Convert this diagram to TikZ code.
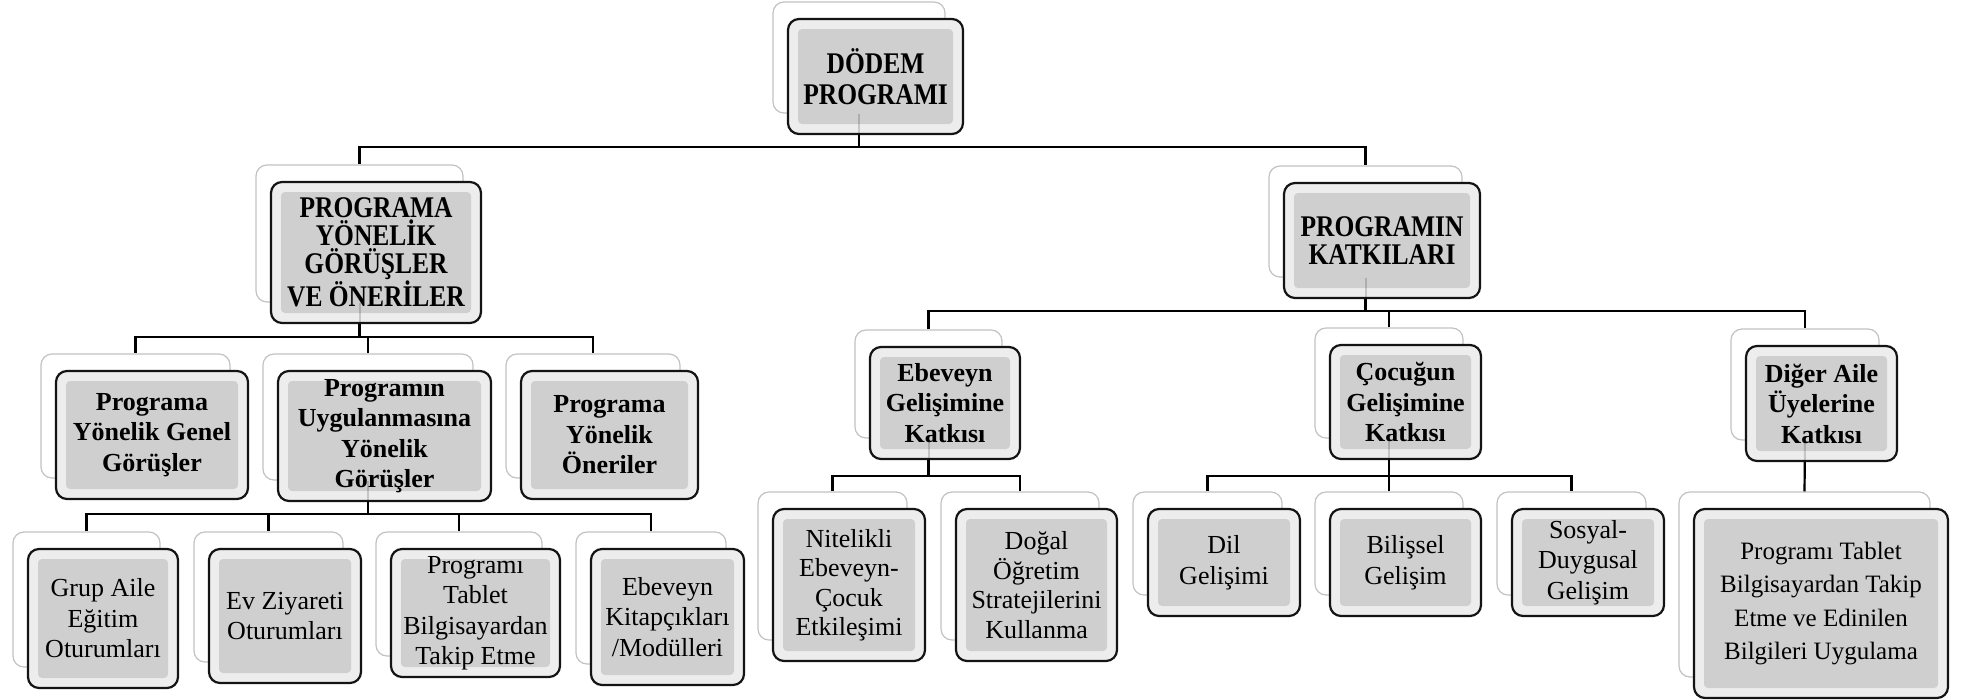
\documentclass[tikz,border=0pt]{standalone}
\usepackage{fontspec}
\setmainfont{Liberation Serif}
\newfontfamily\condserif{Liberation Serif}[FakeStretch=0.85]
\newcommand\mkback[5]{\node[backbox, minimum width={#4-#2}, minimum height={#5-#3}] (#1-b) at ({(#2+#4)/2},{(#3+#5)/2}) {};}
\newcommand\mkfront[7]{\node[frontbox, #6, minimum width={#4-#2+3}, minimum height={#5-#3+4}] (#1) at ({(#2+#4)/2+16.5},{(#3+#5)/2+19}) {#7};}
\begin{document}
\begin{tikzpicture}[x=1pt,y=-1pt,
  backbox/.style={draw=black!24, line width=1.2pt, fill=white, rounded corners=11pt, inner sep=0pt},
  frontbox/.style={draw=black!92, line width=2.2pt, fill=black!7, rounded corners=11pt, inner sep=0pt, align=center, text=black,
    path picture={\fill[black!19, rounded corners=4pt] ([shift={(10pt,10pt)}]path picture bounding box.south west) rectangle ([shift={(-10pt,-10pt)}]path picture bounding box.north east);}},
  conn/.style={draw=black, line width=2.2pt},
  faint/.style={draw=black, line width=2pt, draw opacity=0.16},
  lzero/.style={font={\condserif\bfseries\fontsize{30}{30.5}\selectfont}},
  lone/.style={font={\condserif\bfseries\fontsize{30}{28}\selectfont}},
  ltwo/.style={font={\bfseries\fontsize{26}{30.5}\selectfont}},
  lthree/.style={font={\fontsize{26}{30.5}\selectfont}},
  lthreeb/.style={font={\fontsize{26}{29.5}\selectfont}},
  lbig/.style={font={\fontsize{25}{33.5}\selectfont}}
]
\useasboundingbox (0,0) rectangle (1964,699);
% back boxes
\mkback{A}{773}{2}{945}{113}
\mkback{B}{256}{165}{463}{302}
\mkback{C}{1269}{166}{1462}{277}
\mkback{D1}{41}{354}{230}{478}
\mkback{D2}{263}{354}{473}{480}
\mkback{D3}{506}{354}{680}{478}
\mkback{E1}{13}{532}{160}{667}
\mkback{E2}{194}{532}{343}{662}
\mkback{E3}{376}{532}{542}{656}
\mkback{E4}{576}{532}{726}{664}
\mkback{F1}{855}{330}{1002}{438}
\mkback{F2}{1315}{328}{1463}{438}
\mkback{F3}{1731}{329}{1879}{440}
\mkback{G1}{758}{492}{907}{640}
\mkback{G2}{941}{492}{1099}{640}
\mkback{G3}{1133}{492}{1282}{595}
\mkback{G4}{1315}{492}{1463}{595}
\mkback{G5}{1497}{492}{1646}{595}
\mkback{H}{1679}{492}{1930}{677}
% bus levels
\coordinate (bus0) at (0,147);
\coordinate (bus1) at (0,337);
\coordinate (bus2) at (0,514);
\coordinate (bus3) at (0,311);
\coordinate (bus4) at (0,476);
% connectors
\draw[conn] (A-b.south) -- (A-b.south |- bus0) -| (B-b.north);
\draw[conn] (A-b.south |- bus0) -| (C-b.north);
\draw[conn] (B-b.south) -- (B-b.south |- bus1) -| (D1-b.north);
\draw[conn] (B-b.south |- bus1) -| (D2-b.north);
\draw[conn] (B-b.south |- bus1) -| (D3-b.north);
\draw[conn] (D2-b.south) -- (D2-b.south |- bus2) -| (E1-b.north);
\draw[conn] (D2-b.south |- bus2) -| (E2-b.north);
\draw[conn] (D2-b.south |- bus2) -| (E3-b.north);
\draw[conn] (D2-b.south |- bus2) -| (E4-b.north);
\draw[conn] (C-b.south) -- (C-b.south |- bus3) -| (F1-b.north);
\draw[conn] (C-b.south |- bus3) -| (F2-b.north);
\draw[conn] (C-b.south |- bus3) -| (F3-b.north);
\draw[conn] (F1-b.south) -- (F1-b.south |- bus4) -| (G1-b.north);
\draw[conn] (F1-b.south |- bus4) -| (G2-b.north);
\draw[conn] (F2-b.south) -- (F2-b.south |- bus4) -| (G3-b.north);
\draw[conn] (F2-b.south |- bus4) -| (G4-b.north);
\draw[conn] (F2-b.south |- bus4) -| (G5-b.north);
\draw[conn] (F3-b.south) -- (H-b.north);
% front boxes
\mkfront{A}{773}{2}{945}{113}{lzero}{DÖDEM\\PROGRAMI}
\mkfront{B}{256}{165}{463}{302}{lone}{PROGRAMA\\YÖNELİK\\GÖRÜŞLER\\VE ÖNERİLER}
\mkfront{C}{1269}{166}{1462}{277}{lone}{PROGRAMIN\\KATKILARI}
\mkfront{D1}{41}{354}{230}{478}{ltwo}{Programa\\Yönelik Genel\\Görüşler}
\mkfront{D2}{263}{354}{473}{480}{ltwo}{Programın\\Uygulanmasına\\Yönelik\\Görüşler}
\mkfront{D3}{506}{354}{680}{478}{ltwo}{Programa\\Yönelik\\Öneriler}
\mkfront{E1}{13}{532}{160}{667}{lthree}{Grup Aile\\Eğitim\\Oturumları}
\mkfront{E2}{194}{532}{343}{662}{lthree}{Ev Ziyareti\\Oturumları}
\mkfront{E3}{376}{532}{542}{656}{lthree}{Programı\\Tablet\\Bilgisayardan\\Takip Etme}
\mkfront{E4}{576}{532}{726}{664}{lthree}{Ebeveyn\\Kitapçıkları\\/Modülleri}
\mkfront{F1}{855}{330}{1002}{438}{ltwo}{Ebeveyn\\Gelişimine\\Katkısı}
\mkfront{F2}{1315}{328}{1463}{438}{ltwo}{Çocuğun\\Gelişimine\\Katkısı}
\mkfront{F3}{1731}{329}{1879}{440}{ltwo}{Diğer Aile\\Üyelerine\\Katkısı}
\mkfront{G1}{758}{492}{907}{640}{lthreeb}{Nitelikli\\Ebeveyn-\\Çocuk\\Etkileşimi}
\mkfront{G2}{941}{492}{1099}{640}{lthreeb}{Doğal\\Öğretim\\Stratejilerini\\Kullanma}
\mkfront{G3}{1133}{492}{1282}{595}{lthree}{Dil\\Gelişimi}
\mkfront{G4}{1315}{492}{1463}{595}{lthree}{Bilişsel\\Gelişim}
\mkfront{G5}{1497}{492}{1646}{595}{lthree}{Sosyal-\\Duygusal\\Gelişim}
\mkfront{H}{1679}{492}{1930}{677}{lbig}{Programı Tablet\\Bilgisayardan Takip\\Etme ve Edinilen\\Bilgileri Uygulama}
% connector stubs seen through the front boxes
\draw[faint] (A-b.south) -- (A-b.south |- bus0);
\draw[faint] (B-b.south) -- (B-b.south |- bus1);
\draw[faint] (C-b.south) -- (C-b.south |- bus3);
\draw[faint] (D2-b.south) -- (D2-b.south |- bus2);
\draw[faint] (F1-b.south) -- (F1-b.south |- bus4);
\draw[faint] (F2-b.south) -- (F2-b.south |- bus4);
\draw[faint] (F3-b.south) -- (H-b.north);
\end{tikzpicture}
\end{document}
